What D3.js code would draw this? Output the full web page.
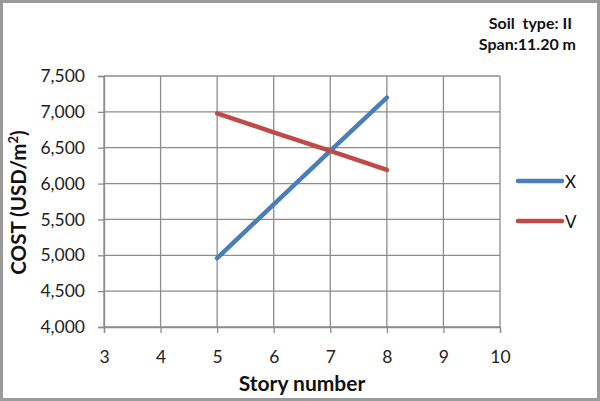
<!DOCTYPE html>
<html><head><meta charset="utf-8">
<script src="https://cdn.jsdelivr.net/npm/d3@7"></script>
<style>body{margin:0;background:#fff}svg{display:block}</style>
</head><body>
<script>
const stories = [5, 6, 7, 8];
const seriesX = [4960, 5710, 6455, 7200];
const seriesV = [6980, 6715, 6455, 6190];
const seriesNames = ["X", "V"];
const xTicks = [3, 4, 5, 6, 7, 8, 9, 10];
const yTicks = [4000, 4500, 5000, 5500, 6000, 6500, 7000, 7500];
const colors = ["#4A7EBB", "#BE4B48"];

const W = 600, H = 401;
const m = {left: 104, right: 100, top: 76, bottom: 74};
const svg = d3.select("body").append("svg").attr("width", W).attr("height", H);
svg.append("rect").attr("x", 1.5).attr("y", 1.5).attr("width", W - 3).attr("height", H - 3)
  .attr("fill", "#fff").attr("stroke", "#9a9a9a").attr("stroke-width", 3);

const x = d3.scaleLinear().domain([3, 10]).range([m.left, W - m.right]);
const y = d3.scaleLinear().domain([4000, 7500]).range([H - m.bottom, m.top]);
const gridC = "#8c8c8c";

// grid
svg.append("g").selectAll("line").data(xTicks).join("line")
  .attr("x1", d => x(d)).attr("x2", d => x(d)).attr("y1", y(7500)).attr("y2", y(4000))
  .attr("stroke", gridC).attr("stroke-width", 1.3);
svg.append("g").selectAll("line").data(yTicks).join("line")
  .attr("x1", x(3)).attr("x2", x(10)).attr("y1", d => y(d)).attr("y2", d => y(d))
  .attr("stroke", gridC).attr("stroke-width", 1.3);

const font = "Lato, 'Open Sans', sans-serif";
const xa = svg.append("g").attr("transform", `translate(0,${y(4000)})`)
  .call(d3.axisBottom(x).tickValues(xTicks).tickSize(6).tickPadding(18).tickFormat(d3.format("d")));
const ya = svg.append("g").attr("transform", `translate(${x(3)},0)`)
  .call(d3.axisLeft(y).tickValues(yTicks).tickSize(6).tickPadding(13).tickFormat(d3.format(",")));
[xa, ya].forEach(g => {
  g.select(".domain").attr("stroke", gridC).attr("stroke-width", 1.3);
  g.selectAll(".tick line").attr("stroke", gridC).attr("stroke-width", 1.3);
  g.selectAll("text").attr("font-family", font).attr("font-size", 17.5).attr("fill", "#222");
});

const line = d3.line().x((d, i) => x(stories[i])).y(d => y(d));
[seriesX, seriesV].forEach((s, i) => {
  svg.append("path").datum(s).attr("d", line).attr("fill", "none")
    .attr("stroke", colors[i]).attr("stroke-width", 4.5).attr("stroke-linecap", "round");
});

// legend
seriesNames.forEach((n, i) => {
  const ly = 181 + i * 40;
  svg.append("line").attr("x1", 518).attr("x2", 562).attr("y1", ly).attr("y2", ly)
    .attr("stroke", colors[i]).attr("stroke-width", 4.5).attr("stroke-linecap", "round");
  svg.append("text").attr("x", 565).attr("y", ly + 7).text(n)
    .attr("font-family", font).attr("font-size", 17).attr("fill", "#111");
});

// axis titles
svg.append("text").attr("transform", `translate(26,${(y(4000) + y(7500)) / 2})`)
  .append("text");
svg.append("text").attr("transform", `translate(26,${(y(4000) + y(7500)) / 2 + 1}) rotate(-90)`)
  .attr("text-anchor", "middle").attr("font-family", font).attr("font-weight", "bold")
  .attr("font-size", 20.5).attr("fill", "#111")
  .html('COST (USD/m<tspan dy="-8" font-size="13">2</tspan><tspan dy="8">)</tspan>');
svg.append("text").attr("x", 302).attr("y", 391).attr("text-anchor", "middle")
  .attr("font-family", font).attr("font-weight", "bold").attr("font-size", 21).attr("fill", "#111")
  .text("Story number");

// annotation
svg.append("text").attr("x", 572).attr("y", 29).attr("text-anchor", "end")
  .attr("font-family", font).attr("font-weight", "bold").attr("font-size", 16).attr("fill", "#111")
  .attr("xml:space", "preserve").text("Soil  type: II");
svg.append("text").attr("x", 576).attr("y", 50).attr("text-anchor", "end")
  .attr("font-family", font).attr("font-weight", "bold").attr("font-size", 16).attr("fill", "#111")
  .text("Span:11.20 m");
</script>
</body></html>
